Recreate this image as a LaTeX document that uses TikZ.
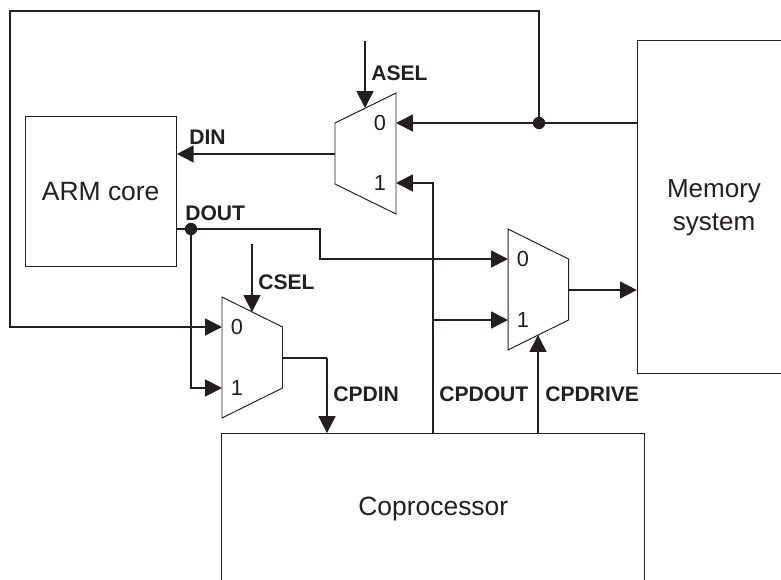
\documentclass[tikz,border=0pt]{standalone}
\usepackage{fontspec}
\setmainfont{Liberation Sans}
\usetikzlibrary{calc,arrows.meta}
\definecolor{inkdark}{HTML}{231F20}

\begin{document}
\begin{tikzpicture}[x=0.025cm, y=-0.025cm, inkdark,
    box/.style={draw, line width=0.7pt, inner sep=0pt, align=center, font=\fontsize{18.8}{22.7}\selectfont},
    muxline/.style={draw, line width=0.7pt, line join=miter},
    bus/.style={line width=1.25pt},
    busarrow/.style={bus, -{Triangle[length=12pt,width=12pt]}},
    sig/.style={font=\fontsize{15}{18}\bfseries\selectfont, anchor=west, inner sep=0pt},
    digit/.style={font=\fontsize{15.5}{18}\selectfont, inner sep=0pt},
    junction/.style={circle, fill, inner sep=0pt, minimum size=0.31cm}]

\useasboundingbox (0,0) rectangle (781,579);

% === BLOCKS ===
\node[box, minimum width=3.78cm, minimum height=3.76cm] (armcore) at (100.7,191.6) {ARM core};
\node[box, minimum width=3.84cm, minimum height=8.315cm] (memsys) at (714.2,206.8) {};
\node[box, draw=none, font=\fontsize{18.5}{23.2}\selectfont] (memlabel) at (714,208) {Memory\\system};
\node[box, minimum width=10.58cm, minimum height=3.75cm] (coproc) at (433.3,508.6) {Coprocessor};

% === MUXES ===
% narrow side faces the output
\draw[muxline] (335,123) -- (396,93) -- (396,214) -- (335,184) -- cycle;
\foreach \mux/\x/\y in {cmux/222/297, dmux/508/229} {
  \draw[muxline] (\x,\y) -- ({\x+60.5},{\y+30}) -- ({\x+60.5},{\y+91}) -- (\x,{\y+121}) -- cycle;
  \coordinate (\mux-in0) at (\x,{\y+30});
  \coordinate (\mux-in1) at (\x,{\y+91});
  \coordinate (\mux-out) at ({\x+60.5},{\y+61});
  \coordinate (\mux-sel) at ({\x+30},{\y+15});
  \coordinate (\mux-sub) at ({\x+30},{\y+106});
  \node[digit] (\mux-zero) at ({\x+15},{\y+30}) {0};
  \node[digit] (\mux-one) at ({\x+15},{\y+90.5}) {1};
}
\coordinate (amux-in0) at (396,123);
\coordinate (amux-in1) at (396,183);
\coordinate (amux-out) at (335,154);
\coordinate (amux-sel) at (365,108);
\node[digit] (amux-zero) at (380,123) {0};
\node[digit] (amux-one) at (380,183) {1};

% === MEMORY READ AND LOOP ===
\node[junction] (memdot) at (539,123) {};
\coordinate (loopcorner) at (10,11);
\draw[busarrow] (memsys.west |- amux-in0) -- (amux-in0);
\draw[busarrow] (memdot.center) |- (loopcorner) |- (cmux-in0);
\draw[busarrow] (amux-out) -- (armcore.east |- amux-out);

% === DOUT ===
\node[junction] (doutdot) at (191,229) {};
\coordinate (doutbend) at (320,229);
\draw[busarrow] (armcore.east |- doutdot) -- (doutbend) |- (dmux-in0);
\draw[busarrow] (doutdot.center) |- (cmux-in1);

% === COPROCESSOR ===
\coordinate (cpdinbend) at (327,358);
\coordinate (cpdouttap) at (433,320);
\draw[bus] (cmux-out |- cpdinbend) -- (cpdinbend);
\draw[busarrow] (cpdinbend) -- (cpdinbend |- coproc.north);
\draw[busarrow] (cpdouttap |- coproc.north) |- (amux-in1);
\draw[busarrow] (cpdouttap) -- (dmux-in1);
\draw[busarrow] (dmux-sub |- coproc.north) -- (dmux-sub);
\draw[busarrow] (dmux-out) -- (memsys.west |- dmux-out);

% === SELECTS ===
\coordinate (aselstart) at (365,41);
\coordinate (cselstart) at (252,244);
\draw[busarrow] (aselstart) -- (amux-sel);
\draw[busarrow] (cselstart) -- (cmux-sel);

% === LABELS ===
\node[sig] (asel) at (371,73) {ASEL};
\node[sig] (din) at (189,137) {DIN};
\node[sig] (dout) at (185,213) {DOUT};
\node[sig] (csel) at (258,282) {CSEL};
\node[sig] (cpdin) at (333,394) {CPDIN};
\node[sig] (cpdout) at (439,394) {CPDOUT};
\node[sig] (cpdrv) at (545,394) {CPDRIVE};

\end{tikzpicture}
\end{document}
